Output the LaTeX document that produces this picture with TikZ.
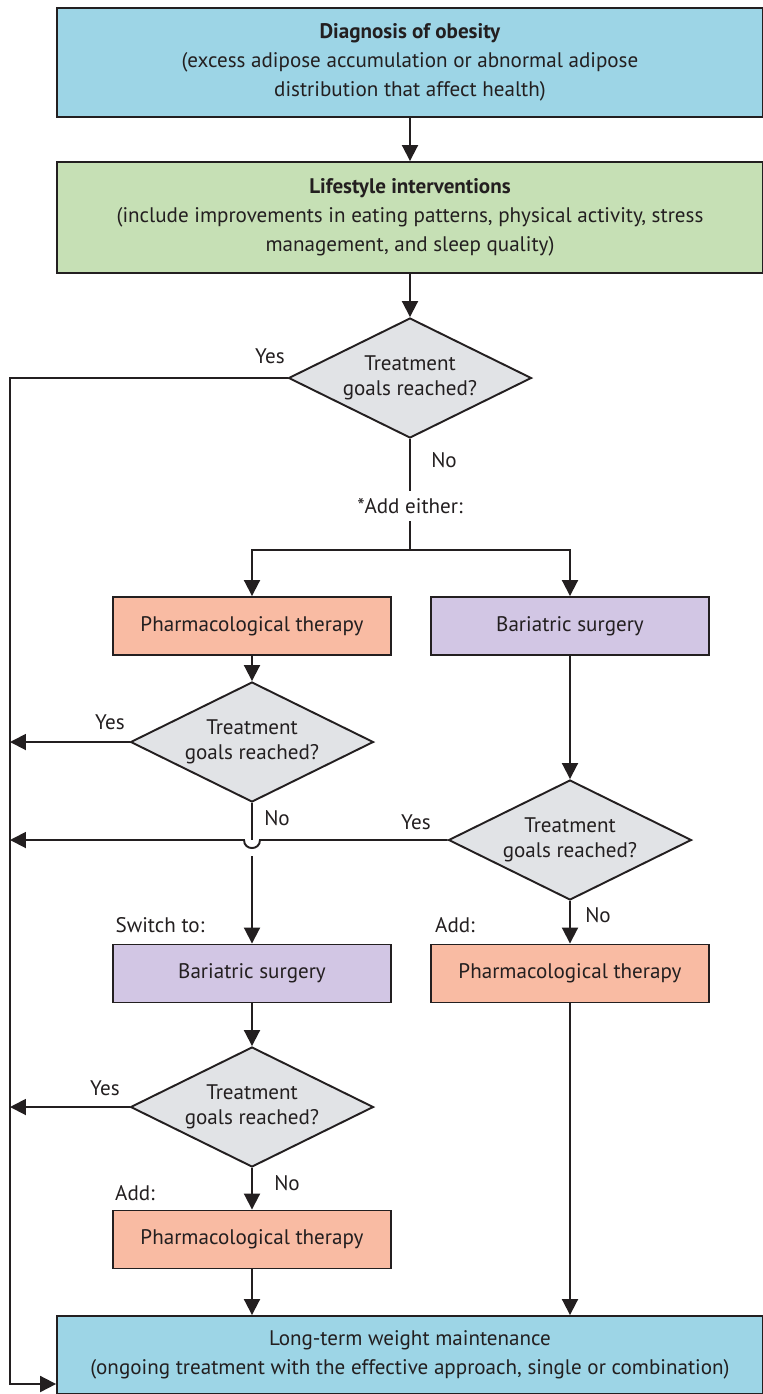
\documentclass[tikz,border=0pt]{standalone}
\usepackage{fontspec}
\setmainfont{PT Sans}
\usepackage{xcolor}
\definecolor{ObBlue}{HTML}{9DD5E6}
\definecolor{ObGreen}{HTML}{C6E0B5}
\definecolor{ObSalmon}{HTML}{F9BBA3}
\definecolor{ObLilac}{HTML}{D2C6E4}
\definecolor{ObGrey}{HTML}{E1E3E6}
\definecolor{ObLine}{HTML}{231F20}
\usepackage{tikz}
\usetikzlibrary{positioning,arrows.meta,shapes.geometric}

\tikzset{
  widebox/.style={draw=ObLine, line width=1.1pt, minimum width=14.12cm, align=center, inner sep=0pt,
    font=\fontsize{12}{16.5}\selectfont, text=ObLine},
  smallbox/.style={draw=ObLine, line width=1.1pt, minimum width=5.56cm, minimum height=1.16cm,
    font=\fontsize{12}{16.5}\selectfont, text=ObLine},
  goalcheck/.style={draw=ObLine, line width=1.1pt, fill=ObGrey, diamond, aspect=2, inner sep=0pt,
    minimum width=4.86cm, minimum height=2.4cm, align=center, font=\fontsize{12}{14.5}\selectfont, text=ObLine},
  lbl/.style={font=\fontsize{12}{14}\selectfont, text=ObLine, inner sep=0pt},
  flow/.style={line width=1.1pt, ObLine},
  arr/.style={flow, -{Triangle[length=0.32cm, width=0.32cm]}}
}

\begin{document}
\begin{tikzpicture}[x=0.02cm, y=-0.02cm]
        \useasboundingbox (0,0) rectangle (763,1394);
        % top and lifestyle
        \node[widebox, fill=ObBlue, minimum height=2.18cm] (diag) at (410,62.5) {\textbf{Diagnosis of obesity}\\(excess adipose accumulation or abnormal adipose\\distribution that affect health)};
        \node[widebox, fill=ObGreen, minimum height=2.22cm] (life) at (410,217.5) {\textbf{Lifestyle interventions}\\(include improvements in eating patterns, physical activity, stress\\management, and sleep quality)};
        \node[goalcheck] (dec1) at (410,378) {Treatment\\goals reached?};

        % two options
        \node[smallbox, fill=ObSalmon] (pharm1) at (252,626) {Pharmacological therapy};
        \node[smallbox, fill=ObLilac] (bari1) at (570,626) {Bariatric surgery};
        \node[goalcheck] (dec2) at (252,742) {Treatment\\goals reached?};
        \node[goalcheck] (dec3) at (570,840) {Treatment\\goals reached?};
        \node[smallbox, fill=ObLilac] (bari2) at (252,973.5) {Bariatric surgery};
        \node[smallbox, fill=ObSalmon] (pharm2) at (570,973.5) {Pharmacological therapy};
        \node[goalcheck] (dec4) at (252,1107) {Treatment\\goals reached?};
        \node[smallbox, fill=ObSalmon] (pharm3) at (252,1239.5) {Pharmacological therapy};

        \node[widebox, fill=ObBlue, minimum height=1.56cm] (maint) at (410,1355) {Long-term weight maintenance\\(ongoing treatment with the effective approach, single or combination)};

        % labels
        \node[lbl] (yes1) at (270,356) {Yes};
        \node[lbl] (no1) at (444,460) {No};
        \node[lbl, inner ysep=4pt] (either) at (410,506) {*Add either:};
        \node[lbl] (yes2) at (110,722) {Yes};
        \node[lbl] (no2) at (277,818) {No};
        \node[lbl] (yes3) at (416,822) {Yes};
        \node[lbl] (no3) at (598,915) {No};
        \node[lbl] (switch) at (160,925) {Switch to:};
        \node[lbl] (add1) at (455,925) {Add:};
        \node[lbl] (yes4) at (105,1088) {Yes};
        \node[lbl] (no4) at (287,1183) {No};
        \node[lbl] (add2) at (135,1193) {Add:};

        \coordinate (split) at (410,550);
        \coordinate (lft1) at (10,378);
        \coordinate (lftbot) at (10,1384);
        \coordinate (lft2) at (10,742);
        \coordinate (lft3) at (10,840);
        \coordinate (lft4) at (10,1107);
        \coordinate (hopR) at (260,840);
        \coordinate (hopL) at (244,840);
        \coordinate (hopT) at (252,840);
        \coordinate (hopB) at (252,856);

        \draw[arr] (diag) -- (life);
        \draw[arr] (life) -- (dec1);
        \draw[flow] (dec1) -- (either);
        \draw[flow] (either) -- (split);
        \draw[arr] (split) -| (pharm1);
        \draw[arr] (split) -| (bari1);
        \draw[arr] (pharm1) -- (dec2);
        \draw[arr] (bari1) -- (dec3);
        \draw[flow] (dec2) -- (hopT);
        \draw[arr] (hopB) -- (bari2);
        \draw[arr] (dec3) -- (pharm2);
        \draw[arr] (bari2) -- (dec4);
        \draw[arr] (dec4) -- (pharm3);
        \draw[arr] (pharm3) -- (maint.north -| pharm3);
        \draw[arr] (pharm2) -- (maint.north -| pharm2);

        % yes branches to the left
        \draw[arr] (dec1.west) -- (lft1) -- (lftbot) -- (maint.west |- lftbot);
        \draw[arr] (dec2.west) -- (lft2);
        \draw[arr] (dec3.west) -- (hopR) .. controls +(0,10.7) and +(0,10.7) .. (hopL) -- (lft3);
        \draw[arr] (dec4.west) -- (lft4);
    \end{tikzpicture}
\end{document}
